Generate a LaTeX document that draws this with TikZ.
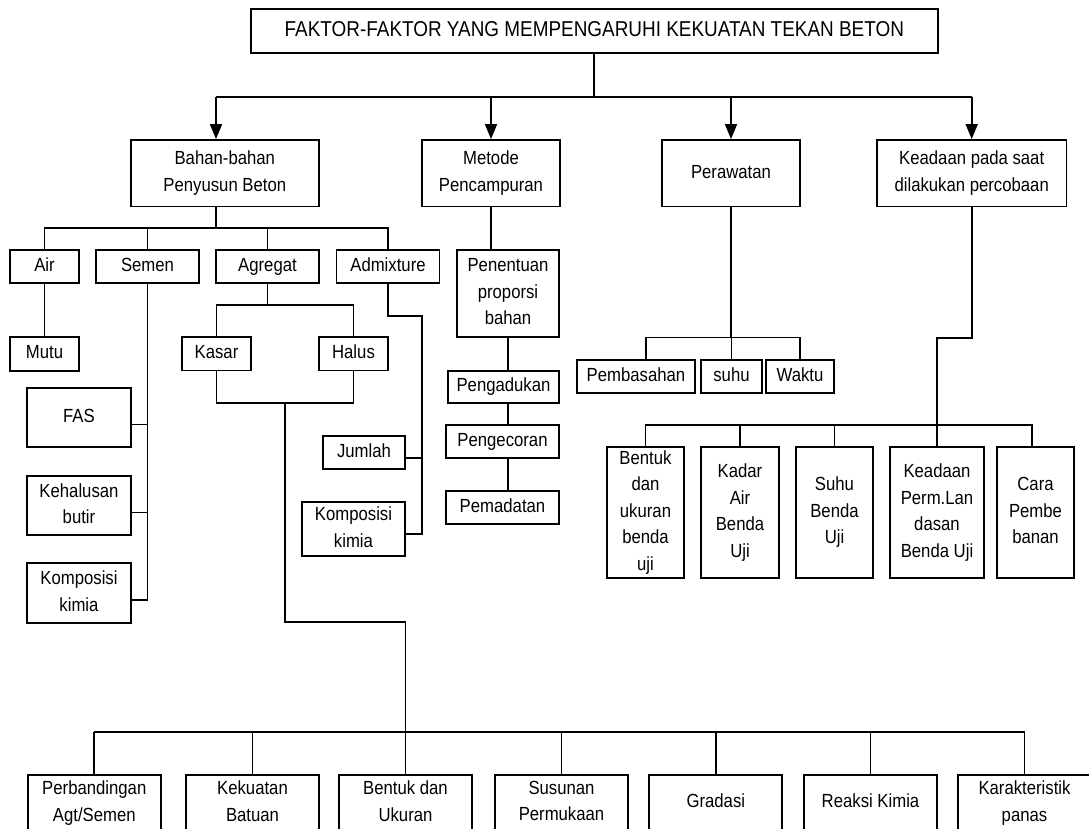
\documentclass[tikz,border=0pt]{standalone}
\usepackage{fontspec}
\setmainfont{Liberation Sans}[FakeStretch=0.88]
\usetikzlibrary{arrows.meta}
\begin{document}
\begin{tikzpicture}[x=1pt,y=-1pt,
  box/.style={draw, line width=1.7pt, inner sep=0pt, align=center, font=\fontsize{19}{26.5}\selectfont,
    execute at begin node=\vphantom{Ahgj}, execute at end node=\vphantom{Ahgj}},
  conn/.style={line width=1.7pt},
  arr/.style={line width=1.7pt, -{Triangle[length=15pt,width=12pt]}},
  lowbox/.style={box, minimum width=133pt, minimum height=56pt}
]
\useasboundingbox (0,0) rectangle (1089,829);
\clip (0,0) rectangle (1089,829);

% title
\node[box, font=\fontsize{21.5}{26}\selectfont, minimum width=687pt, minimum height=43.5pt] (title) at (594.3,31) {FAKTOR-FAKTOR YANG MEMPENGARUHI KEKUATAN TEKAN BETON};

% level 1
\node[box, minimum width=188pt, minimum height=66.5pt] (bahan) at (224.8,173.2) {Bahan-bahan\\Penyusun Beton};
\node[box, minimum width=138pt, minimum height=66.5pt] (metode) at (491,173.2) {Metode\\Pencampuran};
\node[box, minimum width=138pt, minimum height=66.5pt] (rawat) at (731,173.2) {Perawatan};
\node[box, minimum width=189.5pt, minimum height=66.5pt] (keadaan) at (971.7,173.2) {Keadaan pada saat\\dilakukan percobaan};

% bahan children
\node[box, minimum width=69pt, minimum height=33pt] (air) at (44.5,266.5) {Air};
\node[box, minimum width=103pt, minimum height=33pt] (semen) at (147.5,266.5) {Semen};
\node[box, minimum width=103pt, minimum height=33pt] (agr) at (267.5,266.5) {Agregat};
\node[box, minimum width=103pt, minimum height=33pt] (adm) at (388,266.5) {Admixture};
\node[box, minimum width=69pt, minimum height=34pt] (mutu) at (44.5,354) {Mutu};
\node[box, minimum width=104pt, minimum height=59pt] (fas) at (79,417.5) {FAS};
\node[box, minimum width=104pt, minimum height=59pt] (halb) at (79,505.5) {Kehalusan\\butir};
\node[box, minimum width=104pt, minimum height=60pt] (kompL) at (79,593) {Komposisi\\kimia};
\node[box, minimum width=69pt, minimum height=33.5pt] (kasar) at (216.5,353.7) {Kasar};
\node[box, minimum width=69pt, minimum height=33.5pt] (halus) at (353.5,353.7) {Halus};
\node[box, minimum width=82pt, minimum height=33pt] (jumlah) at (364,452.5) {Jumlah};
\node[box, minimum width=103pt, minimum height=54pt] (kompM) at (353.5,529) {Komposisi\\kimia};

% metode children
\node[box, minimum width=102pt, minimum height=87pt] (penentuan) at (508,293.5) {Penentuan\\proporsi\\bahan};
\node[box, minimum width=111pt, minimum height=32pt] (aduk) at (503.5,387) {Pengadukan};
\node[box, minimum width=113pt, minimum height=33pt] (cor) at (502.5,441.5) {Pengecoran};
\node[box, minimum width=113pt, minimum height=33pt] (padat) at (502.5,507.5) {Pemadatan};

% perawatan children
\node[box, minimum width=118pt, minimum height=33pt] (pemb) at (636,376.5) {Pembasahan};
\node[box, minimum width=61pt, minimum height=33pt] (suhu) at (731.5,376.5) {suhu};
\node[box, minimum width=68pt, minimum height=33pt] (waktu) at (800,376.5) {Waktu};

% keadaan children
\node[box, minimum width=77pt, minimum height=131pt] (bentuk) at (645.5,512.5) {Bentuk\\dan\\ukuran\\benda\\uji};
\node[box, minimum width=78pt, minimum height=131pt] (kadar) at (740,512.5) {Kadar\\Air\\Benda\\Uji};
\node[box, minimum width=77pt, minimum height=131pt] (suhub) at (834.5,512.5) {Suhu\\Benda\\Uji};
\node[box, minimum width=94pt, minimum height=131pt] (kperm) at (937,512.5) {Keadaan\\Perm.Lan\\dasan\\Benda Uji};
\node[box, minimum width=77pt, minimum height=131pt] (cara) at (1035.5,512.5) {Cara\\Pembe\\banan};

% bottom row
\node[lowbox] (perb) at (94.3,803) {Perbandingan\\Agt/Semen};
\node[lowbox] (kek) at (252.5,803) {Kekuatan\\Batuan};
\node[lowbox] (bentukB) at (405.5,803) {Bentuk dan\\Ukuran};
\node[lowbox] (sus) at (561.5,803) {Susunan\\Permukaan};
\node[lowbox] (grad) at (715.8,803) {Gradasi};
\node[lowbox] (reak) at (870.5,803) {Reaksi Kimia};
\node[lowbox] (kar) at (1024.5,803) {Karakteristik\\panas};

% top connectors
\coordinate (busT) at (594.3,97);
\coordinate (busL) at (216,97);
\coordinate (busR) at (971.7,97);
\draw[conn] (title.south) -- (busT);
\draw[conn] (busL) -- (busR);
\draw[arr] (busL) -- (busL |- bahan.north);
\draw[arr] (metode.north |- busL) -- (metode.north);
\draw[arr] (rawat.north |- busL) -- (rawat.north);
\draw[arr] (busR) -- (keadaan.north);

% bahan connectors
\coordinate (b1) at (216,228);
\draw[conn] (bahan.south -| b1) -- (b1);
\draw[conn] (air.north) -- (air.north |- b1) -- (adm.north |- b1) -- (adm.north);
\draw[conn] (semen.north) -- (semen.north |- b1);
\draw[conn] (agr.north) -- (agr.north |- b1);
\draw[conn] (air.south) -- (mutu.north);

\coordinate (sEnd) at (147.5,600);
\draw[conn] (semen.south) -- (sEnd);
\coordinate (fasC) at ([yshift=-7pt]fas.east);
\coordinate (halbC) at ([yshift=-7pt]halb.east);
\coordinate (kompLC) at ([yshift=-7pt]kompL.east);
\draw[conn] (fasC) -- (fasC -| semen.south);
\draw[conn] (halbC) -- (halbC -| semen.south);
\draw[conn] (kompLC) -- (kompLC -| semen.south);

\coordinate (ag1) at (267.5,305);
\draw[conn] (agr.south) -- (ag1);
\draw[conn] (kasar.north) -- (kasar.north |- ag1) -- (halus.north |- ag1) -- (halus.north);
\coordinate (ag2) at (285,403);
\draw[conn] (kasar.south) -- (kasar.south |- ag2) -- (halus.south |- ag2) -- (halus.south);
\coordinate (ag3) at (285,622);
\draw[conn] (ag2) -- (ag3) -| (bentukB.north);

\coordinate (ad1) at (422,316);
\coordinate (jC) at ([yshift=-5.5pt]jumlah.east);
\coordinate (kMC) at ([yshift=-5pt]kompM.east);
\draw[conn] (adm.south) |- (ad1) -- (ad1 |- kMC) -- (kMC);
\draw[conn] (jC) -- (jC -| ad1);

% bottom bus
\coordinate (bb) at (0,731.7);
\draw[conn] (perb.north |- bb) -- (kar.north |- bb);
\foreach \n in {perb,kek,bentukB,sus,grad,reak,kar}
  \draw[conn] (\n.north |- bb) -- (\n.north);

% metode connectors
\draw[conn] (metode.south) -- (metode.south |- penentuan.north);
\draw[conn] (penentuan.south) -- (penentuan.south |- aduk.north);
\draw[conn] (penentuan.south |- aduk.south) -- (penentuan.south |- cor.north);
\draw[conn] (penentuan.south |- cor.south) -- (penentuan.south |- padat.north);

% perawatan connectors
\coordinate (r1) at (731,337.5);
\draw[conn] (rawat.south) -- (r1);
\draw[conn] ([xshift=10pt]pemb.north) |- (waktu.north |- r1) -- (waktu.north);
\draw[conn] (suhu.north) -- (suhu.north |- r1);

% keadaan connectors
\coordinate (k1) at (937,338);
\coordinate (k2) at (937,425);
\draw[conn] (keadaan.south) |- (k1) -- (k2);
\coordinate (caraT) at ([xshift=-3.5pt]cara.north);
\draw[conn] (bentuk.north) |- (caraT |- k2) -- (caraT);
\draw[conn] (kadar.north) -- (kadar.north |- k2);
\draw[conn] (suhub.north) -- (suhub.north |- k2);
\draw[conn] (kperm.north) -- (kperm.north |- k2);
\end{tikzpicture}
\end{document}
